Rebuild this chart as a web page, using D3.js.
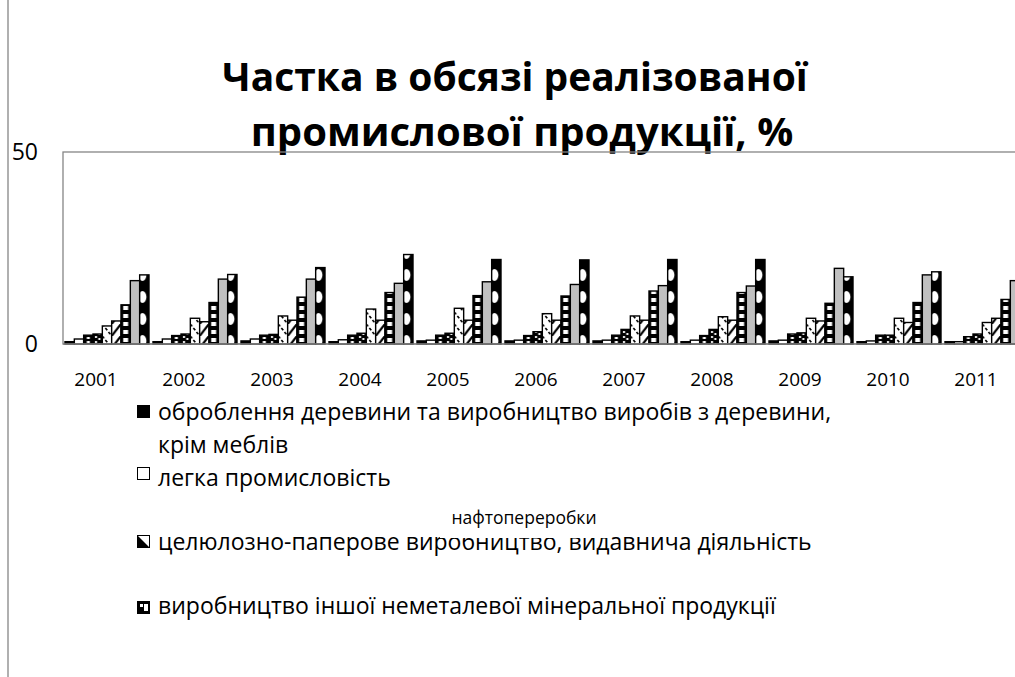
<!DOCTYPE html>
<html>
<head>
<meta charset="utf-8">
<script src="https://cdn.jsdelivr.net/npm/d3@7"></script>
<style>
  body { margin: 0; background: #fff; overflow: hidden; }
  text { font-family: "Open Sans", sans-serif; }
</style>
</head>
<body>
<div id="chart"></div>
<script>
// years on the category axis
const years = ["2001", "2002", "2003", "2004", "2005", "2006", "2007", "2008", "2009", "2010", "2011"];

// series names (only some of them made it into the visible legend)
const seriesNames = [
    "оброблення деревини та виробництво виробів з деревини, крім меблів",
    "легка промисловість",
    "виробництво коксу та продуктів нафтопереробки",
    "целюлозно-паперове виробництво, видавнича діяльність",
    "виробництво іншої неметалевої мінеральної продукції",
    "хімічна та нафтохімічна промисловість",
    "машинобудування",
    "металургійне виробництво",
    "виробництво харчових продуктів"
];

// share values, %
const wood      = [0.6, 0.6, 0.8, 0.6, 0.8, 0.8, 0.8, 0.6, 0.8, 0.6, 0.6];
const light     = [1.3, 1.3, 1.3, 1.1, 1.0, 1.0, 1.0, 1.0, 1.0, 0.8, 0.6];
const coke      = [2.3, 2.2, 2.3, 2.3, 2.3, 2.2, 2.3, 2.2, 2.6, 2.3, 1.9];
const paper     = [2.6, 2.6, 2.5, 2.8, 2.8, 3.2, 3.8, 3.8, 2.9, 2.3, 2.6];
const nonMetal  = [4.7, 6.7, 7.3, 9.1, 9.3, 7.9, 7.3, 7.1, 6.7, 6.7, 5.6];
const chemical  = [6.0, 5.8, 6.2, 6.2, 6.2, 6.2, 6.2, 6.2, 6.0, 5.6, 6.7];
const machinery = [10.2, 10.8, 12.2, 13.4, 12.6, 12.5, 13.8, 13.4, 10.6, 10.8, 11.6];
const metal     = [16.5, 16.9, 16.9, 15.8, 16.2, 15.5, 15.2, 15.1, 19.7, 18.0, 16.5];
const food      = [18.0, 18.1, 19.9, 23.3, 22.0, 21.9, 22.0, 22.0, 17.5, 18.8, 18.0];

const seriesValues = [wood, light, coke, paper, nonMetal, chemical, machinery, metal, food];

const yTicks = [0, 50];

const width = 1015;
const height = 677;

const svg = d3.select("#chart")
    .append("svg")
    .attr("width", width)
    .attr("height", height);

const defs = svg.append("defs");

// scales
const plotLeft = 63, plotTop = 152, plotBottom = 344;
const step = 88;
const x = d3.scaleBand()
    .domain(years)
    .range([plotLeft, plotLeft + step * years.length])
    .padding(0);
const xInner = d3.scaleBand()
    .domain(d3.range(seriesNames.length))
    .range([2, step - 2])
    .padding(0);
const y = d3.scaleLinear().domain([0, 50]).range([plotBottom, plotTop]);

const bw = xInner.bandwidth();

// fill patterns, drawn relative to the left edge of each bar
function makePattern(id, w, h, draw) {
    const p = defs.append("pattern")
        .attr("id", id)
        .attr("patternUnits", "userSpaceOnUse")
        .attr("width", w)
        .attr("height", h);
    draw(p);
}
makePattern("p3", bw, 4, p => {
    p.append("rect").attr("width", bw).attr("height", 4).attr("fill", "#000");
    p.append("rect").attr("x", bw / 2 - 1.5).attr("y", 1).attr("width", 3).attr("height", 2).attr("fill", "#fff");
});
makePattern("p4", bw, 5, p => {
    p.append("rect").attr("width", bw).attr("height", 5).attr("fill", "#000");
    p.append("rect").attr("x", 2).attr("y", 1).attr("width", 2).attr("height", 2).attr("fill", "#fff");
    p.append("rect").attr("x", bw - 4).attr("y", 3).attr("width", 2).attr("height", 2).attr("fill", "#fff");
});
makePattern("p5", bw, 12, p => {
    p.append("rect").attr("width", bw).attr("height", 12).attr("fill", "#fff");
    p.append("path").attr("d", `M0,0 L${bw},12`).attr("stroke", "#000").attr("stroke-width", 1.6).attr("stroke-dasharray", "3,2");
});
makePattern("p6", bw, 12, p => {
    p.append("rect").attr("width", bw).attr("height", 12).attr("fill", "#fff");
    p.append("path").attr("d", `M0,12 L${bw},0`).attr("stroke", "#000").attr("stroke-width", 2.2);
});
makePattern("p7", bw, 8, p => {
    p.append("rect").attr("width", bw).attr("height", 8).attr("fill", "#000");
    p.append("rect").attr("x", 2.2).attr("y", 2).attr("width", bw - 4.4).attr("height", 4).attr("fill", "#fff");
});
makePattern("p9", bw, 22, p => {
    p.append("rect").attr("width", bw).attr("height", 22).attr("fill", "#000");
    p.append("ellipse").attr("cx", bw * 0.3).attr("cy", 11).attr("rx", 4).attr("ry", 6).attr("fill", "#fff");
});

const fills = ["#000", "#fff", "url(#p3)", "url(#p4)", "url(#p5)", "url(#p6)", "url(#p7)", "#c0c0c0", "url(#p9)"];

// chart area left border
svg.append("line")
    .attr("x1", 8).attr("x2", 8)
    .attr("y1", 0).attr("y2", height)
    .attr("stroke", "#868686").attr("stroke-width", 1.3);

// title
const title = svg.append("text")
    .attr("text-anchor", "middle")
    .attr("font-weight", "bold")
    .attr("fill", "#000");
title.append("tspan").attr("x", 515).attr("y", 91).attr("font-size", "39px").text("Частка в обсязі реалізованої");
title.append("tspan").attr("x", 522).attr("y", 146).attr("font-size", "40px").text("промислової продукції, %");

// plot frame
svg.append("rect")
    .attr("x", plotLeft).attr("y", plotTop)
    .attr("width", x.range()[1] - plotLeft)
    .attr("height", plotBottom - plotTop)
    .attr("fill", "none")
    .attr("stroke", "#868686")
    .attr("stroke-width", 1.3);

// bars
const groups = svg.append("g").selectAll("g")
    .data(years)
    .join("g");

groups.selectAll("rect")
    .data((yr, i) => seriesValues.map((vals, s) => ({ year: yr, s: s, v: vals[i] })))
    .join("rect")
    .attr("transform", d => `translate(${x(d.year) + xInner(d.s)},0)`)
    .attr("x", 0)
    .attr("y", d => y(d.v))
    .attr("width", bw)
    .attr("height", d => y(0) - y(d.v))
    .attr("fill", d => fills[d.s])
    .attr("stroke", "#000")
    .attr("stroke-width", 1.4);

// baseline
svg.append("line")
    .attr("x1", plotLeft).attr("x2", width)
    .attr("y1", plotBottom).attr("y2", plotBottom)
    .attr("stroke", "#868686").attr("stroke-width", 1.3);

// y labels
svg.append("g").selectAll("text")
    .data(yTicks)
    .join("text")
    .attr("x", 38)
    .attr("y", d => y(d))
    .attr("dy", "0.36em")
    .attr("text-anchor", "end")
    .attr("font-size", "23px")
    .attr("fill", "#000")
    .text(d => d);

// x labels (sit a bit left of the bar groups, as in the original)
svg.append("g").selectAll("text")
    .data(years)
    .join("text")
    .attr("x", d => x(d) + x.bandwidth() / 2 - 11)
    .attr("y", 386)
    .attr("text-anchor", "middle")
    .attr("font-size", "19px")
    .attr("fill", "#000")
    .text(d => d);

// legend - only the part that shows in the picture
const legend = svg.append("g").attr("font-size", "23px").attr("fill", "#000");

function legendText(tx, ty, lines) {
    const t = legend.append("text").attr("x", tx).attr("y", ty);
    lines.forEach((l, i) => t.append("tspan").attr("x", tx).attr("dy", i === 0 ? 0 : 33).text(l));
}

// item 1: wood
legend.append("rect").attr("x", 137.5).attr("y", 405.5).attr("width", 12).attr("height", 12)
    .attr("fill", "#000").attr("stroke", "#000");
legendText(158, 420, ["оброблення деревини та виробництво виробів з деревини,", "крім меблів"]);

// item 2: light industry
legend.append("rect").attr("x", 137.5).attr("y", 467.5).attr("width", 12).attr("height", 12)
    .attr("fill", "#fff").attr("stroke", "#000");
legendText(158, 486, [seriesNames[1]]);

// item 3: paper
legend.append("rect").attr("x", 137.5).attr("y", 535.5).attr("width", 12).attr("height", 12)
    .attr("fill", "#fff").attr("stroke", "#000");
legend.append("path").attr("d", "M138,547 L138,536 L149,547 Z").attr("fill", "#000");
legendText(158, 550, [seriesNames[3]]);

// hidden entry: its box covers the top of the line below
legend.append("rect")
    .attr("x", 440).attr("y", 506).attr("width", 168).attr("height", 32)
    .attr("fill", "#fff");
legend.append("text")
    .attr("x", 524).attr("y", 524)
    .attr("text-anchor", "middle")
    .attr("font-family", "Liberation Sans, Arial, sans-serif")
    .attr("font-size", "17.5px")
    .text("нафтопереробки");

// item 4: non-metal minerals
legend.append("rect").attr("x", 137.5).attr("y", 601.5).attr("width", 12).attr("height", 12)
    .attr("fill", "#000").attr("stroke", "#000");
legend.append("rect").attr("x", 140).attr("y", 604).attr("width", 3).attr("height", 3).attr("fill", "#fff");
legend.append("rect").attr("x", 144).attr("y", 604).attr("width", 4).attr("height", 7).attr("fill", "#fff");
legendText(158, 614, [seriesNames[4]]);
</script>
</body>
</html>
